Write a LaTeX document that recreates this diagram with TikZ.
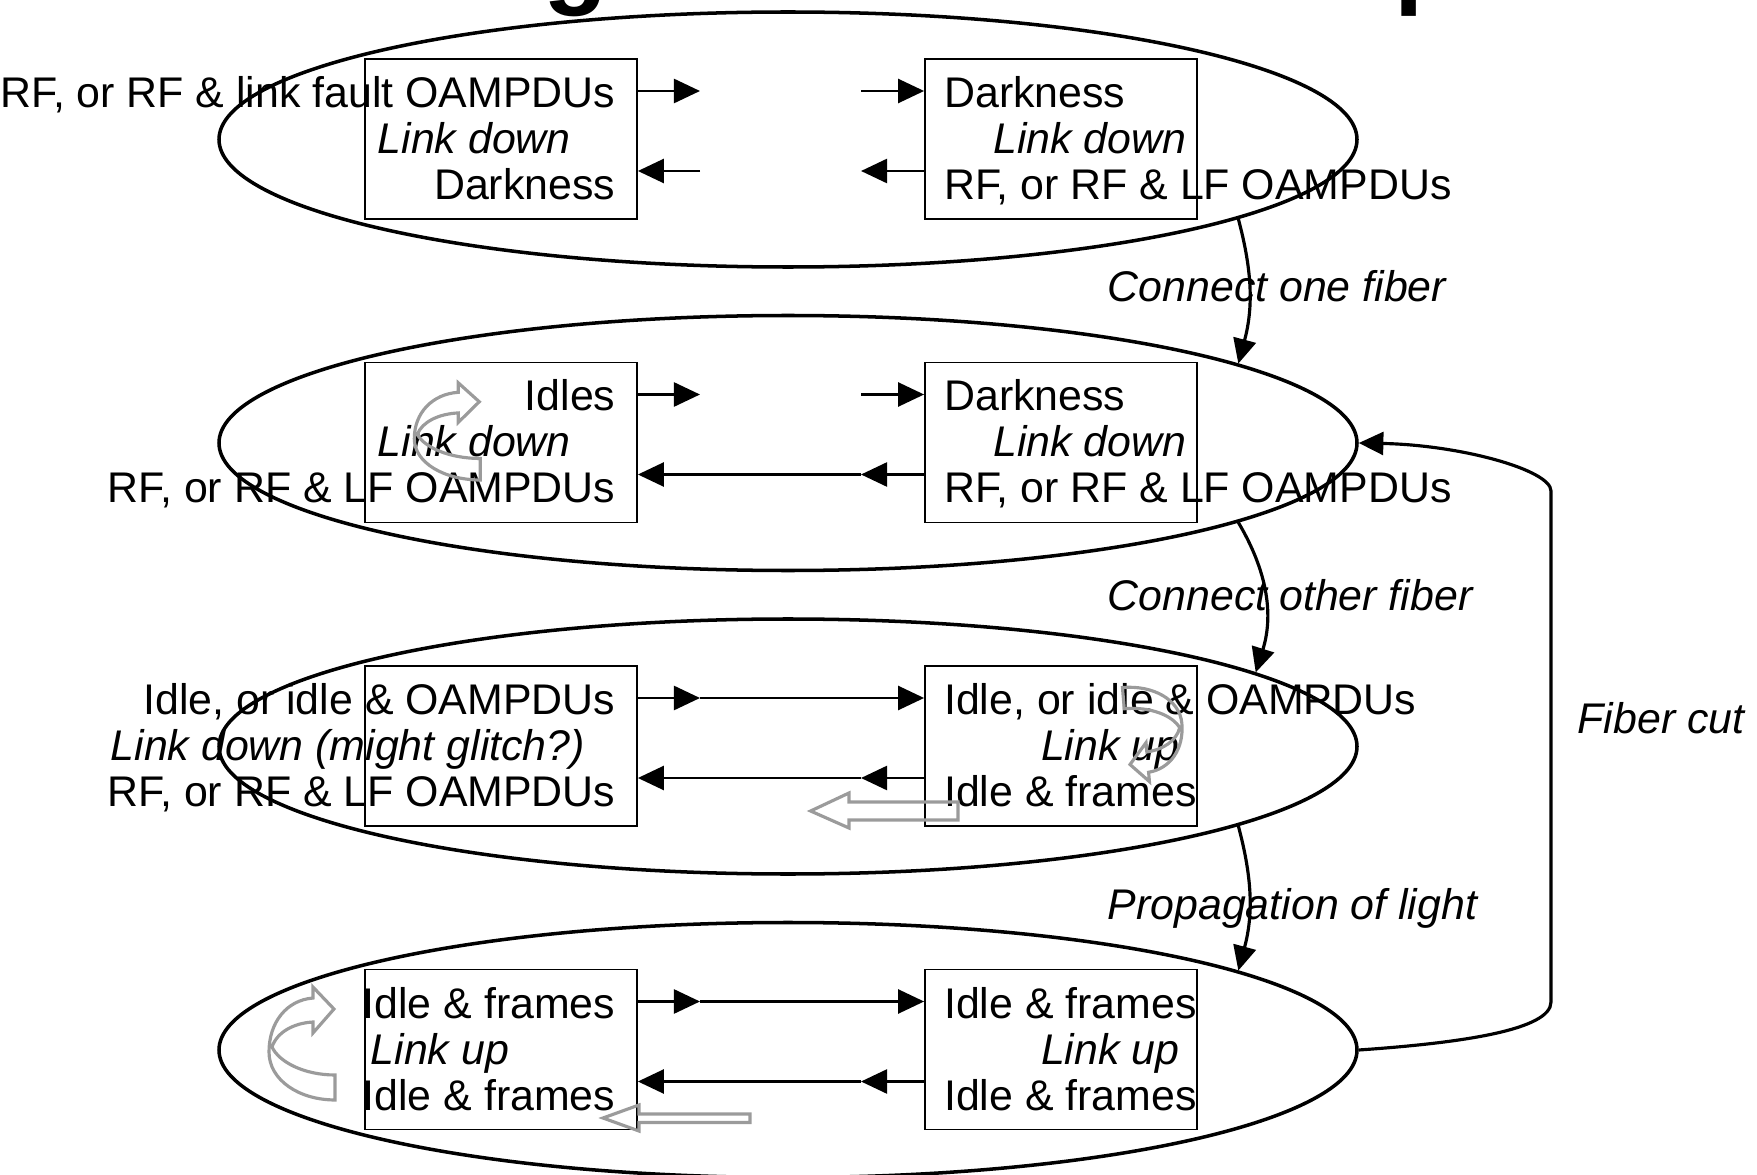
\documentclass[tikz,border=0pt]{standalone}
\usepackage{fontspec}
\setmainfont{Liberation Sans}
\usetikzlibrary{shapes.geometric,arrows.meta}
\definecolor{curlgray}{RGB}{155,155,155}
\tikzset{
  stateoval/.style={ellipse, draw, line width=1pt, minimum width=11.38cm, minimum height=2.55cm, inner sep=0},
  endbox/.style={draw, line width=0.5pt, minimum width=2.72cm, minimum height=1.6cm, inner sep=0},
  txt/.style={inner sep=0, font=\fontsize{12.2}{13.1}\selectfont},
  txti/.style={inner sep=0, font=\fontsize{12.2}{13.1}\selectfont\itshape},
  sig/.style={line width=0.8pt, -{Triangle[length=7.4pt,width=6.8pt]}},
  trans/.style={line width=0.9pt, -{Triangle[length=7pt,width=6.5pt]}},
  hollow/.style={draw=curlgray, line width=0.9pt, line join=miter},
  curl/.pic={\draw[hollow, x=0.01cm, y=0.01cm] (66,-50) .. controls (30,-50) and (0,-30) .. (0,-2)
    .. controls (0,28) and (18,50) .. (44,52) -- (44,63) -- (65,41) -- (44,17) -- (44,28)
    .. controls (25,27) and (8,18) .. (3,3) .. controls (10,-12) and (35,-25) .. (66,-25) -- cycle;}
}
\begin{document}
\begin{tikzpicture}
	\useasboundingbox (0,0) rectangle (17.57,-11.75);
	% remains of the title
	\node[anchor=base west, inner sep=0, font=\fontsize{30}{30}\selectfont\bfseries] (titleg) at (5.43,0.05) {g};
	\node[anchor=base west, inner sep=0, font=\fontsize{30}{30}\selectfont\bfseries] (titlep) at (13.94,0.05) {p};
	% states
	\foreach \k/\y in {1/0,2/3.035,3/6.07,4/9.105} {
	    \node[stateoval] (e\k) at (7.88,-1.395-\y) {};
	    \node[endbox] (l\k) at (5.01,-1.39-\y) {};
	    \node[endbox] (r\k) at (10.61,-1.39-\y) {};
	    \coordinate (ta\k) at (7.00,-0.91-\y);
	    \coordinate (tb\k) at (8.61,-0.91-\y);
	    \coordinate (ba\k) at (7.00,-1.71-\y);
	    \coordinate (bb\k) at (8.61,-1.71-\y);
	}
	% row 1
	\node[txt, anchor=base east] (l1a) at (6.16,-1.075) {RF, or RF \& link fault OAMPDUs};
	\node[txti, anchor=base west] (l1b) at (3.77,-1.535) {Link down};
	\node[txt, anchor=base east] (l1c) at (6.16,-1.995) {Darkness};
	\node[txt, anchor=base west] (r1a) at (9.435,-1.075) {Darkness};
	\node[txti, anchor=base east] (r1b) at (11.87,-1.535) {Link down};
	\node[txt, anchor=base west] (r1c) at (9.435,-1.995) {RF, or RF \& LF OAMPDUs};
	% row 2
	\node[txt, anchor=base east] (l2a) at (6.16,-4.11) {Idles};
	\node[txti, anchor=base west] (l2b) at (3.77,-4.57) {Link down};
	\node[txt, anchor=base east] (l2c) at (6.16,-5.03) {RF, or RF \& LF OAMPDUs};
	\node[txt, anchor=base west] (r2a) at (9.435,-4.11) {Darkness};
	\node[txti, anchor=base east] (r2b) at (11.87,-4.57) {Link down};
	\node[txt, anchor=base west] (r2c) at (9.435,-5.03) {RF, or RF \& LF OAMPDUs};
	% row 3
	\node[txt, anchor=base east] (l3a) at (6.16,-7.145) {Idle, or idle \& OAMPDUs};
	\node[txti, anchor=base west] (l3b) at (1.10,-7.605) {Link down (might glitch?)};
	\node[txt, anchor=base east] (l3c) at (6.16,-8.065) {RF, or RF \& LF OAMPDUs};
	\node[txt, anchor=base west] (r3a) at (9.435,-7.145) {Idle, or idle \& OAMPDUs};
	\node[txti, anchor=base east] (r3b) at (11.80,-7.605) {Link up};
	\node[txt, anchor=base west] (r3c) at (9.435,-8.065) {Idle \& frames};
	% row 4
	\node[txt, anchor=base west] (l4a) at (3.62,-10.18) {Idle \& frames};
	\node[txti, anchor=base west] (l4b) at (3.70,-10.64) {Link up};
	\node[txt, anchor=base west] (l4c) at (3.62,-11.10) {Idle \& frames};
	\node[txt, anchor=base west] (r4a) at (9.435,-10.18) {Idle \& frames};
	\node[txti, anchor=base east] (r4b) at (11.80,-10.64) {Link up};
	\node[txt, anchor=base west] (r4c) at (9.435,-11.10) {Idle \& frames};
	% signals between the two ends
	\foreach \k in {1,2,3,4} {
	    \draw[sig] (l\k.east |- ta\k) -- (ta\k);
	    \draw[sig] (r\k.west |- bb\k) -- (bb\k);
	}
	\draw[sig] (tb1) -- (r1.west |- tb1);
	\draw[sig] (ba1) -- (l1.east |- ba1);
	\draw[sig] (tb2) -- (r2.west |- tb2);
	\draw[sig] (bb2) -- (l2.east |- ba2);
	\draw[sig] (ta3) -- (r3.west |- tb3);
	\draw[sig] (bb3) -- (l3.east |- ba3);
	\draw[sig] (ta4) -- (r4.west |- tb4);
	\draw[sig] (bb4) -- (l4.east |- ba4);
	% transitions
	\draw[trans] (e1.-10) to[bend left=15] (e2.10);
	\draw[trans] (e2.-10) to[bend left=24] (e3.9);
	\draw[trans] (e3.-10) to[bend left=15] (e4.10);
	\coordinate (cutlow) at (15.51,-10.02);
	\coordinate (cuthigh) at (15.51,-4.91);
	\draw[trans] (e4.east) .. controls +(1.02,0.07) and +(0,-0.28) .. (cutlow) -- (cuthigh) .. controls +(0,0.21) and +(1.02,-0.02) .. (e2.east);
	\node[txti, anchor=base west] (conone) at (11.07,-3.02) {Connect one fiber};
	\node[txti, anchor=base west] (conother) at (11.07,-6.10) {Connect other fiber};
	\node[txti, anchor=base west] (propag) at (11.07,-9.19) {Propagation of light};
	\node[txti, anchor=base west] (fibercut) at (15.77,-7.34) {Fiber cut};
	% gray hollow arrows
	\pic[yscale=0.86] at (4.143,-4.37) {curl};
	\pic at (2.69,-10.50) {curl};
	\pic[rotate=185, scale=0.85] at (11.82,-7.25) {curl};
	\draw[hollow] (8.106,-8.11) -- (8.49,-7.93) -- (8.49,-8.02) -- (9.58,-8.02) -- (9.58,-8.20) -- (8.49,-8.20) -- (8.49,-8.28) -- cycle;
	\draw[hollow] (6.03,-11.18) -- (6.39,-11.05) -- (6.39,-11.14) -- (7.50,-11.14) -- (7.50,-11.225) -- (6.39,-11.225) -- (6.39,-11.31) -- cycle;
\end{tikzpicture}
\end{document}
